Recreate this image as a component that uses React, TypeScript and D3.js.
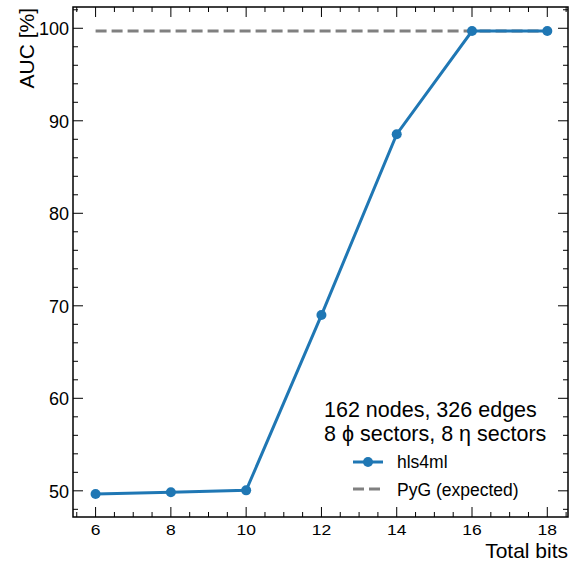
import React from "react";
import * as d3 from "d3";

const bits = [6, 8, 10, 12, 14, 16, 18];
const aucHls = [49.65, 49.85, 50.05, 69.0, 88.55, 99.7, 99.7];
const aucPyg = 99.7;
const xTicks = [6, 8, 10, 12, 14, 16, 18];
const yTicks = [50, 60, 70, 80, 90, 100];
const title1 = "162 nodes, 326 edges";
const title2 = "8 ϕ sectors, 8 η sectors";
const legendLabels = ["hls4ml", "PyG (expected)"];

const W = 571, H = 563;
const L = 73, R = 568, T = 7, B = 517;
const FONT = "'Liberation Sans', Arial, sans-serif";

export default function App() {
  const x = d3.scaleLinear().domain([5.4, 18.55]).range([L, R]);
  const y = d3.scaleLinear().domain([47.17, 102.3]).range([B, T]);
  const line = d3.line<number>().x((_, i) => x(bits[i])).y((d) => y(d));
  const xMinor = d3.range(5.5, 18.55, 0.5).filter((v) => v % 2 !== 0);
  const yMinor = d3.range(48, 102.3, 2).filter((v) => v % 10 !== 0);
  const maj = 10, mn = 5;
  const blue = "#1f77b4";
  const grey = "#808080";
  return (
    <svg width={W} height={H} style={{ position: "absolute", left: 0, top: 0 }} fontFamily={FONT}>
      <rect width={W} height={H} fill="white" />
      <line x1={x(bits[0])} x2={x(bits[bits.length - 1])} y1={y(aucPyg)} y2={y(aucPyg)}
        stroke={grey} strokeWidth={3} strokeDasharray="11,5" />
      <path d={line(aucHls) || ""} fill="none" stroke={blue} strokeWidth={3} />
      {aucHls.map((v, i) => (
        <circle key={i} cx={x(bits[i])} cy={y(v)} r={5} fill={blue} />
      ))}
      <g stroke="black" strokeWidth={1}>
        {xTicks.map((t) => (
          <g key={"xm" + t}>
            <line x1={x(t)} x2={x(t)} y1={B} y2={B - maj} />
            <line x1={x(t)} x2={x(t)} y1={T} y2={T + maj} />
          </g>
        ))}
        {xMinor.map((t) => (
          <g key={"xn" + t}>
            <line x1={x(t)} x2={x(t)} y1={B} y2={B - mn} />
            <line x1={x(t)} x2={x(t)} y1={T} y2={T + mn} />
          </g>
        ))}
        {yTicks.map((t) => (
          <g key={"ym" + t}>
            <line x1={L} x2={L + maj} y1={y(t)} y2={y(t)} />
            <line x1={R} x2={R - maj} y1={y(t)} y2={y(t)} />
          </g>
        ))}
        {yMinor.map((t) => (
          <g key={"yn" + t}>
            <line x1={L} x2={L + mn} y1={y(t)} y2={y(t)} />
            <line x1={R} x2={R - mn} y1={y(t)} y2={y(t)} />
          </g>
        ))}
      </g>
      <rect x={L} y={T} width={R - L} height={B - T} fill="none" stroke="black" strokeWidth={1.5} />
      {xTicks.map((t) => (
        <text key={"xl" + t} transform={`translate(${x(t)},534.5) scale(1,0.8)`} textAnchor="middle" fontSize={17.5}>{t}</text>
      ))}
      {yTicks.map((t) => (
        <text key={"yl" + t} x={69} y={y(t) + 7} textAnchor="end" fontSize={18}>{t}</text>
      ))}
      <text x={R} y={558} textAnchor="end" fontSize={21}>Total bits</text>
      <text transform={`translate(33.5,${T + 1}) rotate(-90)`} textAnchor="end" fontSize={21}>AUC [%]</text>
      <text x={324} y={417} fontSize={21.5}>{title1}</text>
      <text x={324} y={441} fontSize={21.5}>{title2}</text>
      <line x1={353} x2={383} y1={462} y2={462} stroke={blue} strokeWidth={3} />
      <circle cx={368} cy={462} r={5} fill={blue} />
      <text x={397} y={468} fontSize={17.5}>{legendLabels[0]}</text>
      <line x1={353} x2={383} y1={489} y2={489} stroke={grey} strokeWidth={3} strokeDasharray="11,5" />
      <text x={397} y={495.5} fontSize={17.5}>{legendLabels[1]}</text>
    </svg>
  );
}
